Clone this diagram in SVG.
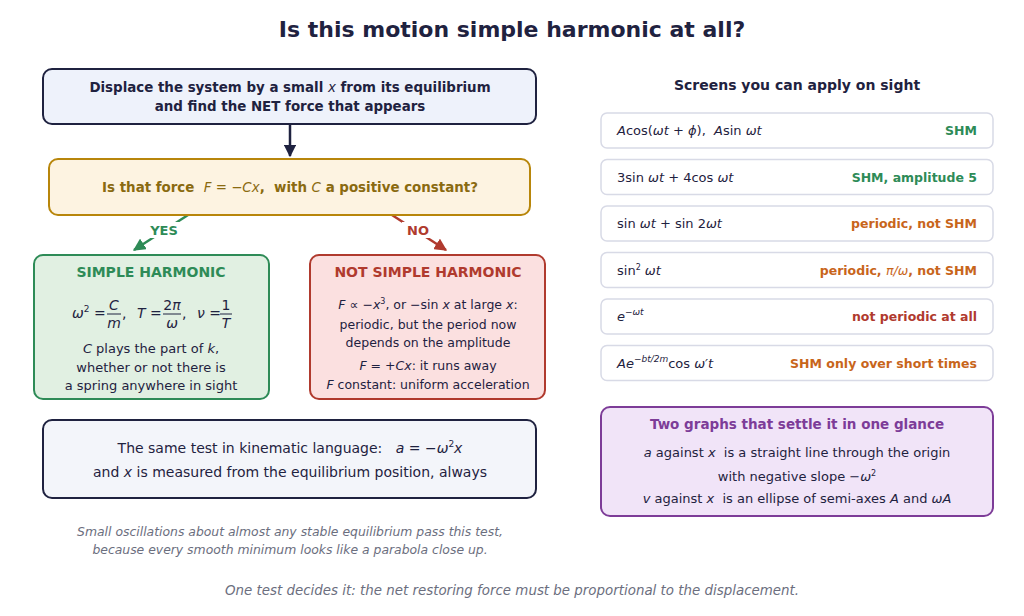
<svg xmlns="http://www.w3.org/2000/svg" width="1024" height="616" viewBox="0 0 1024 616">
<style>
text{font-family:"DejaVu Sans",sans-serif;fill:#1f2240;white-space:pre}
.b{font-weight:bold}
.c{text-anchor:middle}
.e{text-anchor:end}
.i{font-style:italic}
.row{fill:#fff;stroke:#d8dae6;stroke-width:1.5}
.g{fill:#2e8b57}.o{fill:#c8651b}.r{fill:#b03a2e}
.n{fill:#6b6e7e}
</style>
<defs>
<marker id="ad" viewBox="0 0 10 10" refX="9" refY="5" markerWidth="5" markerHeight="5" orient="auto"><path d="M0,0L10,5L0,10z" fill="#1f2240"/></marker>
<marker id="ag" viewBox="0 0 10 10" refX="9" refY="5" markerWidth="5" markerHeight="5" orient="auto"><path d="M0,0L10,5L0,10z" fill="#2e8b57"/></marker>
<marker id="ar" viewBox="0 0 10 10" refX="9" refY="5" markerWidth="5" markerHeight="5" orient="auto"><path d="M0,0L10,5L0,10z" fill="#b03a2e"/></marker>
</defs>
<rect width="1024" height="616" fill="#fff"/>
<text x="512" y="37" class="b c" font-size="22">Is this motion simple harmonic at all?</text>

<g id="connectors">
<line x1="290" y1="124" x2="290" y2="156" stroke="#1f2240" stroke-width="2.5" marker-end="url(#ad)"/>
<line x1="188" y1="215" x2="134" y2="250" stroke="#2e8b57" stroke-width="2.5" marker-end="url(#ag)"/>
<line x1="392" y1="215" x2="446" y2="250" stroke="#b03a2e" stroke-width="2.5" marker-end="url(#ar)"/>
<rect x="146" y="222" width="36" height="16" fill="#fff"/>
<text x="164" y="235" class="b c g" font-size="13">YES</text>
<rect x="402" y="222" width="32" height="16" fill="#fff"/>
<text x="418" y="235" class="b c r" font-size="13">NO</text>
</g>

<g id="n1"><rect x="43" y="69" width="493" height="55" rx="9" fill="#eef2fb" stroke="#1f2240" stroke-width="2"/>
<text x="290" y="92" class="b c" font-size="13.4">Displace the system by a small <tspan class="i" font-weight="normal">x</tspan> from its equilibrium</text>
<text x="290" y="111" class="b c" font-size="13.4">and find the NET force that appears</text></g>

<g id="n2"><rect x="49" y="159" width="481" height="56" rx="9" fill="#fdf3e1" stroke="#b8860b" stroke-width="2"/>
<text x="290" y="192" class="b c" font-size="13.4" style="fill:#8a6a10">Is that force  <tspan class="i" font-weight="normal">F</tspan><tspan font-weight="normal"> = −</tspan><tspan class="i" font-weight="normal">Cx</tspan>,  with <tspan class="i" font-weight="normal">C</tspan> a positive constant?</text></g>

<g id="n3"><rect x="34" y="255" width="235" height="144" rx="9" fill="#e1f0e2" stroke="#2e8b57" stroke-width="2"/>
<text x="151" y="277" class="b c g" font-size="14">SIMPLE HARMONIC</text>
<g font-size="14">
<text x="72" y="318"><tspan class="i">ω</tspan><tspan font-size="9" dy="-6">2</tspan><tspan dy="6"> =</tspan></text>
<text x="114" y="310" class="i c">C</text><line x1="107" y1="314" x2="121" y2="314" stroke="#1f2240"/><text x="114" y="328" class="i c">m</text>
<text x="122" y="318">,</text>
<text x="137" y="318"><tspan class="i">T</tspan> =</text>
<text x="172" y="310" class="c">2<tspan class="i">π</tspan></text><line x1="163" y1="314" x2="181" y2="314" stroke="#1f2240"/><text x="172" y="328" class="i c">ω</text>
<text x="182" y="318">,</text>
<text x="197" y="318"><tspan class="i">ν</tspan> =</text>
<text x="226" y="310" class="c">1</text><line x1="220" y1="314" x2="232" y2="314" stroke="#1f2240"/><text x="226" y="328" class="i c">T</text>
</g>
<text x="151" y="353" class="c" font-size="13"><tspan class="i">C</tspan> plays the part of <tspan class="i">k</tspan>,</text>
<text x="151" y="372" class="c" font-size="13">whether or not there is</text>
<text x="151" y="390" class="c" font-size="13">a spring anywhere in sight</text></g>

<g id="n4"><rect x="310" y="255" width="235" height="144" rx="9" fill="#fbe0e0" stroke="#b03a2e" stroke-width="2"/>
<text x="428" y="277" class="b c r" font-size="14">NOT SIMPLE HARMONIC</text>
<text x="428" y="309" class="c" font-size="12.5"><tspan class="i">F</tspan> ∝ −<tspan class="i">x</tspan><tspan font-size="8" dy="-5">3</tspan><tspan dy="5">, or −sin </tspan><tspan class="i">x</tspan> at large <tspan class="i">x</tspan>:</text>
<text x="428" y="329" class="c" font-size="12.5">periodic, but the period now</text>
<text x="428" y="347" class="c" font-size="12.5">depends on the amplitude</text>
<text x="428" y="370" class="c" font-size="12.5"><tspan class="i">F</tspan> = +<tspan class="i">Cx</tspan>: it runs away</text>
<text x="428" y="389" class="c" font-size="12.5"><tspan class="i">F</tspan> constant: uniform acceleration</text></g>

<g id="n5"><rect x="43" y="420" width="493" height="78" rx="9" fill="#f3f5fa" stroke="#1f2240" stroke-width="2"/>
<text x="290" y="453" class="c" font-size="14">The same test in kinematic language:   <tspan class="i">a</tspan> = −<tspan class="i">ω</tspan><tspan font-size="9" dy="-6">2</tspan><tspan class="i" dy="6">x</tspan></text>
<text x="290" y="477" class="c" font-size="14">and <tspan class="i">x</tspan> is measured from the equilibrium position, always</text></g>

<g id="notes">
<text x="290" y="536" class="c i n" font-size="12.4">Small oscillations about almost any stable equilibrium pass this test,</text>
<text x="290" y="554" class="c i n" font-size="12.4">because every smooth minimum looks like a parabola close up.</text>
<text x="512" y="595" class="c i n" font-size="13.4">One test decides it: the net restoring force must be proportional to the displacement.</text>
</g>

<text x="797" y="90" class="b c" font-size="14">Screens you can apply on sight</text>

<g id="r1"><rect class="row" x="601" y="113" width="392" height="35" rx="6"/>
<text x="617" y="135" font-size="13"><tspan class="i">A</tspan>cos(<tspan class="i">ωt</tspan> + <tspan class="i">ϕ</tspan>),  <tspan class="i">A</tspan>sin <tspan class="i">ωt</tspan></text>
<text x="977" y="135" class="b e g" font-size="12.5">SHM</text></g>
<g id="r2"><rect class="row" x="601" y="159.5" width="392" height="35" rx="6"/>
<text x="617" y="181.5" font-size="13">3sin <tspan class="i">ωt</tspan> + 4cos <tspan class="i">ωt</tspan></text>
<text x="977" y="181.5" class="b e g" font-size="12.5">SHM, amplitude 5</text></g>
<g id="r3"><rect class="row" x="601" y="206" width="392" height="35" rx="6"/>
<text x="617" y="228" font-size="13">sin <tspan class="i">ωt</tspan> + sin 2<tspan class="i">ωt</tspan></text>
<text x="977" y="228" class="b e o" font-size="12.5">periodic, not SHM</text></g>
<g id="r4"><rect class="row" x="601" y="252.5" width="392" height="35" rx="6"/>
<text x="617" y="274.5" font-size="13">sin<tspan font-size="8" dy="-5">2</tspan><tspan class="i" dy="5"> ωt</tspan></text>
<text x="977" y="274.5" class="b e o" font-size="12.5">periodic, <tspan class="i" font-weight="normal">π/ω</tspan>, not SHM</text></g>
<g id="r5"><rect class="row" x="601" y="299" width="392" height="35" rx="6"/>
<text x="617" y="321" font-size="13"><tspan class="i">e</tspan><tspan class="i" font-size="9" dy="-6">−ωt</tspan></text>
<text x="977" y="321" class="b e r" font-size="12.5">not periodic at all</text></g>
<g id="r6"><rect class="row" x="601" y="345.5" width="392" height="35" rx="6"/>
<text x="617" y="367.5" font-size="13"><tspan class="i">Ae</tspan><tspan class="i" font-size="9" dy="-6">−bt/2m</tspan><tspan dy="6">cos </tspan><tspan class="i">ω′t</tspan></text>
<text x="977" y="367.5" class="b e o" font-size="12.5">SHM only over short times</text></g>

<g id="n6"><rect x="601" y="407" width="392" height="109" rx="9" fill="#f1e4f8" stroke="#7d3c98" stroke-width="2"/>
<text x="797" y="429" class="b c" font-size="13.5" style="fill:#7d3c98">Two graphs that settle it in one glance</text>
<text x="797" y="457" class="c" font-size="13"><tspan class="i">a</tspan> against <tspan class="i">x</tspan>  is a straight line through the origin</text>
<text x="797" y="481" class="c" font-size="13">with negative slope −<tspan class="i">ω</tspan><tspan font-size="8" dy="-5">2</tspan></text>
<text x="797" y="503" class="c" font-size="13"><tspan class="i">v</tspan> against <tspan class="i">x</tspan>  is an ellipse of semi-axes <tspan class="i">A</tspan> and <tspan class="i">ωA</tspan></text></g>
</svg>
